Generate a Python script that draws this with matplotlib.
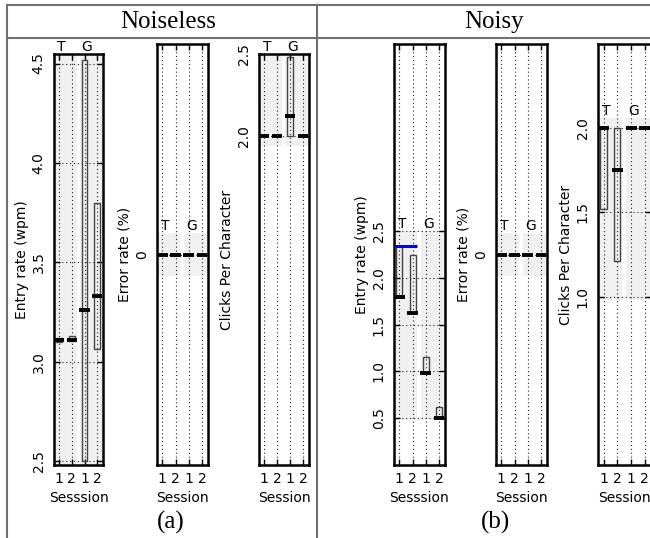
import matplotlib
matplotlib.use('Agg')
import matplotlib.pyplot as plt
from matplotlib.lines import Line2D

W, H = 650, 538

# x positions: T session 1, T session 2, G session 1, G session 2
positions = [1, 2, 3, 4]
session_labels = ['1', '2', '1', '2']
groups = ['T', 'G']

# noiseless
nl_entry_med = [3.11, 3.11, 3.26, 3.33]
nl_entry_lo = [3.10, 3.105, 2.50, 3.065]
nl_entry_hi = [3.12, 3.13, 4.52, 3.80]

nl_err_med = [0, 0, 0, 0]

nl_cpc_med = [2.0, 2.0, 2.12, 2.0]
nl_cpc_lo = [2.0, 2.0, 2.0, 2.0]
nl_cpc_hi = [2.0, 2.0, 2.48, 2.0]

# noisy
ny_entry_med = [1.80, 1.63, 0.98, 0.50]
ny_entry_lo = [1.80, 1.63, 0.98, 0.50]
ny_entry_hi = [2.34, 2.24, 1.15, 0.62]
ny_entry_ref = 2.34

ny_err_med = [0, 0, 0, 0]

ny_cpc_med = [2.0, 1.75, 2.0, 2.0]
ny_cpc_lo = [1.52, 1.21, 2.0, 2.0]
ny_cpc_hi = [2.0, 2.0, 2.0, 2.0]


def px_axes(fig, l, t, r, b):
    return fig.add_axes([l / W, 1 - b / H, (r - l) / W, (b - t) / H])


def panel(ax, med, lo, hi, ylim, yticks, ytl, shade, ylabel, xlabel):
    ax.set_xlim(0.6, 4.45)
    ax.set_ylim(*ylim)
    # gray group backgrounds
    for i, g in enumerate(groups):
        c = 1.5 + 2 * i
        ax.fill_between([c - 0.87, c + 0.87], shade[0], shade[1],
                        color='#f0f0f0', lw=0, zorder=0)
        ax.text(c - 0.3, shade[1], g, ha='center', va='bottom',
                fontsize=10, clip_on=False)
    # boxes
    if lo is not None:
        for x, a, b in zip(positions, lo, hi):
            if b - a > 0:
                ax.bar(x, b - a, bottom=a, width=0.45, facecolor='none',
                       edgecolor='#444444', lw=1.0, zorder=3)
    ax.hlines(med, [p - 0.4 for p in positions], [p + 0.4 for p in positions],
              colors='black', lw=2.8, zorder=4)
    ax.set_xticks(positions)
    ax.set_xticklabels(session_labels)
    ax.set_yticks(yticks)
    ax.set_yticklabels(ytl, rotation=90, va='center')
    ax.grid(True, linestyle=(0, (1, 2.5)), color='#222222', lw=0.8)
    ax.set_axisbelow(True)
    ax.tick_params(direction='in', length=4, width=1, top=True, right=True,
                   labelsize=10, pad=5)
    ax.tick_params(axis='y', pad=6)
    for s in ax.spines.values():
        s.set_linewidth(1.8)
    ax.set_ylabel(ylabel, fontsize=10, labelpad=2)
    ax.set_xlabel(xlabel, fontsize=10, labelpad=4)


fig = plt.figure(figsize=(W / 100, H / 100), dpi=100)

ax1 = px_axes(fig, 54, 54, 103, 465)
panel(ax1, nl_entry_med, nl_entry_lo, nl_entry_hi, (2.482, 4.548),
      [2.5, 3.0, 3.5, 4.0, 4.5], ['2.5', '3.0', '3.5', '4.0', '4.5'],
      (2.482, 4.548), 'Entry rate (wpm)', 'Sesssion')

ax2 = px_axes(fig, 157, 44, 208, 465)
panel(ax2, nl_err_med, None, None, (-1, 1), [0], ['0'], (-0.1, 0.1),
      'Error rate (%)', 'Session')

ax3 = px_axes(fig, 259, 54, 309, 465)
panel(ax3, nl_cpc_med, nl_cpc_lo, nl_cpc_hi, (0, 2.5), [2.0, 2.5],
      ['2.0', '2.5'], (1.94, 2.5), 'Clicks Per Character', 'Session')

ax4 = px_axes(fig, 394, 44, 445, 465)
panel(ax4, ny_entry_med, ny_entry_lo, ny_entry_hi, (0, 4.5),
      [0.5, 1.0, 1.5, 2.0, 2.5], ['0.5', '1.0', '1.5', '2.0', '2.5'],
      (0.48, 2.5), 'Entry rate (wpm)', 'Sesssion')
ax4.hlines(ny_entry_ref, 0.63, 2.37, colors='blue', lw=2.2, zorder=5)

ax5 = px_axes(fig, 496, 44, 547, 465)
panel(ax5, ny_err_med, None, None, (-1, 1), [0], ['0'], (-0.1, 0.1),
      'Error rate (%)', 'Session')

ax6 = px_axes(fig, 598, 44, 651, 465)
panel(ax6, ny_cpc_med, ny_cpc_lo, ny_cpc_hi, (0, 2.5), [1.0, 1.5, 2.0],
      ['1.0', '1.5', '2.0'], (0.98, 2.06), 'Clicks Per Character', 'Session')

# frame around the two halves
frame = dict(color='#707070', lw=1.5, transform=fig.transFigure)
fig.add_artist(Line2D([7 / W, 1], [1 - 5 / H, 1 - 5 / H], **frame))
fig.add_artist(Line2D([7 / W, 1], [1 - 38 / H, 1 - 38 / H], **frame))
fig.add_artist(Line2D([7 / W, 7 / W], [0, 1 - 5 / H], **frame))
fig.add_artist(Line2D([317 / W, 317 / W], [0, 1 - 5 / H], **frame))

serif = ['Liberation Serif', 'DejaVu Serif']
fig.text(168 / W, 1 - 22 / H, 'Noiseless', ha='center', va='center',
         fontsize=18, family=serif)
fig.text(494 / W, 1 - 22 / H, 'Noisy', ha='center', va='center',
         fontsize=18, family=serif)
fig.text(171 / W, 1 - 522 / H, '(a)', ha='center', va='center',
         fontsize=18, family=serif)
fig.text(495 / W, 1 - 522 / H, '(b)', ha='center', va='center',
         fontsize=18, family=serif)

plt.savefig('out.png', dpi=100)
